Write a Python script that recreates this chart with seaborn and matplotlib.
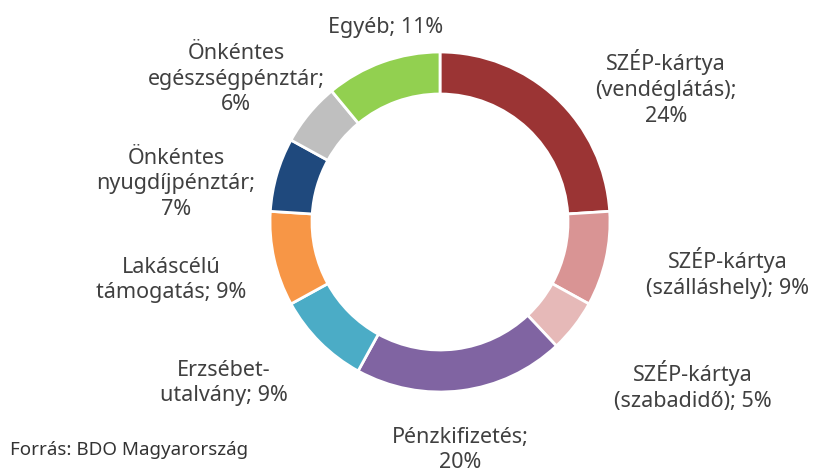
import matplotlib
matplotlib.use("Agg")
import matplotlib.pyplot as plt
import seaborn as sns

categories = [
    "SZÉP-kártya\n(vendéglátás);\n24%",
    "SZÉP-kártya\n(szálláshely); 9%",
    "SZÉP-kártya\n(szabadidő); 5%",
    "Pénzkifizetés;\n20%",
    "Erzsébet-\nutalvány; 9%",
    "Lakáscélú\ntámogatás; 9%",
    "Önkéntes\nnyugdíjpénztár;\n7%",
    "Önkéntes\negészségpénztár;\n6%",
    "Egyéb; 11%",
]
values = [24, 9, 5, 20, 9, 9, 7, 6, 11]
source = "Forrás: BDO Magyarország"

colors = ["#9B3434", "#D99494", "#E6B9B8", "#8064A2", "#4BACC6",
          "#F79646", "#1F497D", "#BFBFBF", "#92D050"]
# label centres in pixel coordinates (x, y from top)
label_pos = [(666, 88), (728, 273), (693, 386), (460, 450), (224, 383),
             (171, 280), (176, 184), (236, 79), (386, 28)]

sns.set_theme(style="white")
plt.rcParams['font.family'] = ['Noto Sans', 'DejaVu Sans']

W, H = 815, 472
fig = plt.figure(figsize=(W / 100, H / 100), dpi=100)
ax = fig.add_axes([0, 0, 1, 1])

cx, cy, R = 440, H - 222, 170
ax.pie(values, colors=colors, startangle=90, counterclock=False,
       center=(cx, cy), radius=R, frame=True,
       wedgeprops=dict(width=42, edgecolor='white', linewidth=2))
ax.set_xlim(0, W)
ax.set_ylim(0, H)
ax.set_aspect('equal')
ax.axis('off')

txt_color = "#404040"
for lab, (x, y) in zip(categories, label_pos):
    ax.text(x, H - y, lab, ha='center', va='center', multialignment='center',
            fontsize=15.5, color=txt_color, linespacing=1.3,
            fontweight='medium')

ax.text(10, H - 450, source, ha='left', va='center', fontsize=13.5,
        color="#333333", fontweight='medium')

fig.savefig("out.png", dpi=100)
